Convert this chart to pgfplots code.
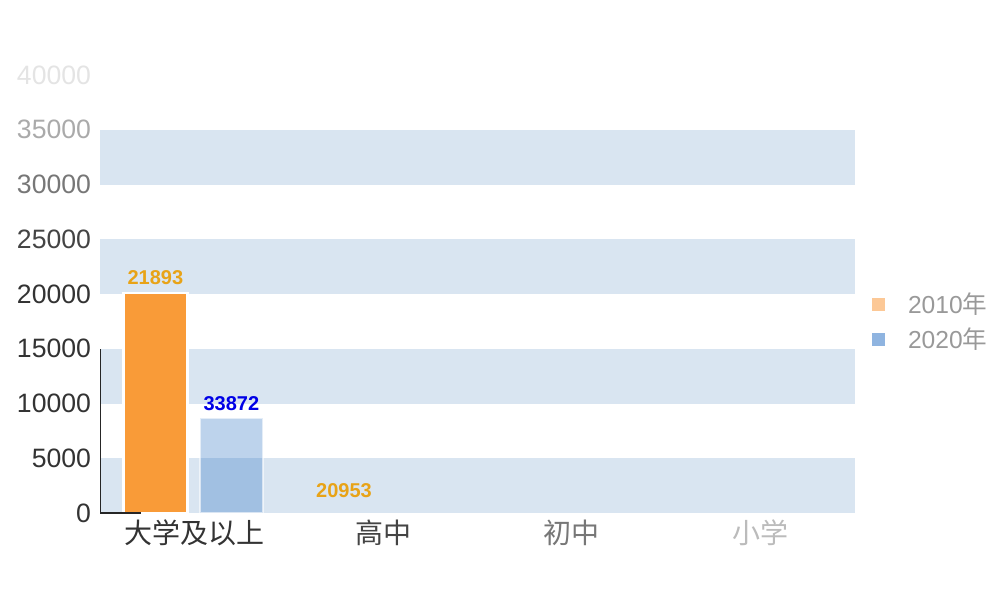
\documentclass[border=0pt]{standalone}
\usepackage{fontspec}
\setmainfont{Liberation Sans}
\newfontfamily\cjk{Noto Sans CJK SC}
\usepackage{pgfplots}
\pgfplotsset{compat=1.18}
\definecolor{band}{HTML}{D9E5F1}
\definecolor{bar10}{HTML}{F99B38}
\definecolor{bar20}{HTML}{1B67BE}
\definecolor{lab10}{HTML}{E8A317}
\definecolor{lab20}{HTML}{0000E6}
\definecolor{leg10}{HTML}{FCC896}
\definecolor{leg20}{HTML}{8FB4E0}
\begin{document}
\begin{tikzpicture}
\begin{axis}[
  scale only axis,
  width=377.5pt, height=219pt,
  xmin=-0.5, xmax=3.5, ymin=0, ymax=40000,
  scaled y ticks=false,
  axis line style={draw=none},
  major tick length=0pt,
  ytick={0,5000,10000,15000,20000,25000,30000,35000,40000},
  yticklabels={\textcolor[HTML]{333333}{0},\textcolor[HTML]{333333}{5000},\textcolor[HTML]{333333}{10000},\textcolor[HTML]{333333}{15000},\textcolor[HTML]{333333}{20000},\textcolor[HTML]{444444}{25000},\textcolor[HTML]{777777}{30000},\textcolor[HTML]{AAAAAA}{35000},\textcolor[HTML]{E4E4E4}{40000}},
  yticklabel style={font=\fontsize{13.3}{14}\selectfont, xshift=-1pt},
  xtick={0,1,2,3},
  xticklabels={\textcolor[HTML]{333333}{大学及以上},\textcolor[HTML]{444444}{高中},\textcolor[HTML]{777777}{初中},\textcolor[HTML]{BBBBBB}{小学}},
  xticklabel style={font=\cjk\fontsize{14}{15}\selectfont, yshift=0pt},
  legend style={at={(1.022,0.436)}, anchor=west, draw=none, fill=none,
    font=\fontsize{12.3}{13}\selectfont, text=black!40, row sep=1.5pt, inner sep=0pt,
    /tikz/every odd column/.style={column sep=9.5pt}},
  legend cell align=left,
]
% background bands
\addplot[fill=band, draw=none, forget plot] coordinates {(-0.5,0) (3.5,0) (3.5,5000) (-0.5,5000)} -- cycle;
\addplot[fill=band, draw=none, forget plot] coordinates {(-0.5,10000) (3.5,10000) (3.5,15000) (-0.5,15000)} -- cycle;
\addplot[fill=band, draw=none, forget plot] coordinates {(-0.5,20000) (3.5,20000) (3.5,25000) (-0.5,25000)} -- cycle;
\addplot[fill=band, draw=none, forget plot] coordinates {(-0.5,30000) (3.5,30000) (3.5,35000) (-0.5,35000)} -- cycle;
% bars 2010
\addplot[ybar, bar width=32pt, bar shift=-19.5pt, fill=bar10, draw=white, line width=1.2pt,
  nodes near coords, point meta=explicit symbolic,
  every node near coord/.append style={font=\bfseries\fontsize{10}{11}\selectfont, text=lab10, xshift=-19.5pt, yshift=0pt},
  legend image code/.code={\fill[leg10, draw=none, fill opacity=1] (0pt,-3.2pt) rectangle (6.5pt,3.2pt);}]
  coordinates {(0,20100) [21893]};
\addlegendentry{2010{\cjk 年}}
% bars 2020
\addplot[ybar, bar width=31.5pt, bar shift=18.5pt, fill=bar20, fill opacity=0.29, draw=white, draw opacity=0.6, line width=0.8pt,
  nodes near coords, point meta=explicit symbolic,
  every node near coord/.append style={font=\bfseries\fontsize{10}{11}\selectfont, text=lab20, text opacity=1, xshift=18.5pt},
  legend image code/.code={\fill[leg20, draw=none, fill opacity=1] (0pt,-3.2pt) rectangle (6.5pt,3.2pt);}]
  coordinates {(0,8700) [33872]};
\addlegendentry{2020{\cjk 年}}
% label of the not yet grown 2010 bar at 高中
\addplot[draw=none, mark=none, forget plot, nodes near coords, point meta=explicit symbolic,
  every node near coord/.append style={font=\bfseries\fontsize{10}{11}\selectfont, text=lab10, anchor=center, yshift=0pt}]
  coordinates {(0.793,2000) [20953]};
% partial axis lines
\draw[black!85, line width=0.9pt] (axis cs:-0.5,0) -- (axis cs:-0.5,15000);
\draw[black!85, line width=0.9pt] (axis cs:-0.5,0) -- (axis cs:-0.285,0);
\end{axis}
\pgfresetboundingbox
\path[use as bounding box] (-50pt,-44pt) rectangle (450pt,256.5pt);
\end{tikzpicture}
\end{document}
